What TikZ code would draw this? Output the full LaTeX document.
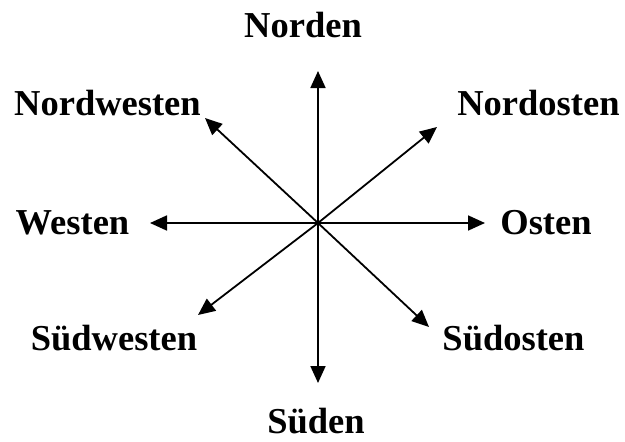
\documentclass[tikz,border=0pt]{standalone}
\usepackage{fontspec}
\setmainfont{Liberation Serif}
\usetikzlibrary{arrows.meta}
\begin{document}
\begin{tikzpicture}[x=1pt,y=-1pt,
  lbl/.style={anchor=base,inner sep=0pt,font=\fontsize{36.5}{40}\selectfont\bfseries},
  dirarrow/.style={line width=1.8pt,-{Triangle[length=17pt,width=15pt]}}]
\useasboundingbox (0,0) rectangle (625,442);
\coordinate (c) at (318,223);
\coordinate (tn) at (318,71);
\coordinate (ts) at (318,383);
\coordinate (tw) at (150,223);
\coordinate (to) at (485,223);
\coordinate (tnw) at (205,118);
\coordinate (tno) at (437,127);
\coordinate (tsw) at (198,315);
\coordinate (tso) at (429,327);
\node[lbl] (n) at (303,37) {Norden};
\node[lbl] (nw) at (107.5,115) {Nordwesten};
\node[lbl] (no) at (538.5,115) {Nordosten};
\node[lbl] (w) at (72.5,234) {Westen};
\node[lbl] (o) at (546,234) {Osten};
\node[lbl] (sw) at (114,350) {Südwesten};
\node[lbl] (so) at (513.5,350) {Südosten};
\node[lbl] (s) at (316,433) {Süden};
\foreach \t in {tn,ts,tw,to,tnw,tno,tsw,tso}
  \draw[dirarrow] (c) -- (\t);
\end{tikzpicture}
\end{document}
